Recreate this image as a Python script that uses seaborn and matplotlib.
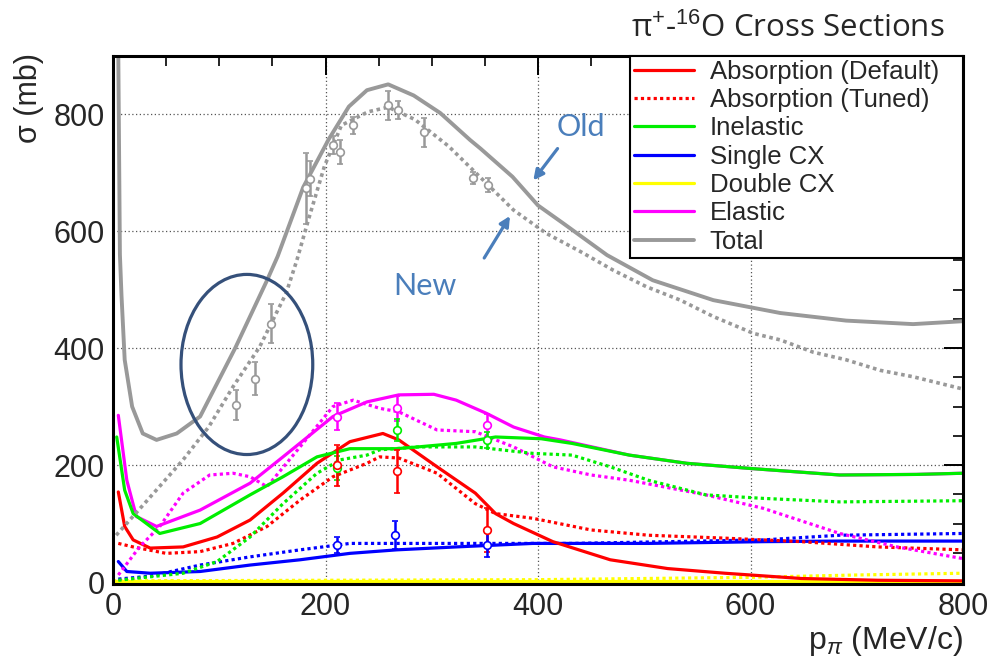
import numpy as np
import pandas as pd
import matplotlib
matplotlib.use("Agg")
import matplotlib.pyplot as plt
import seaborn as sns
from matplotlib.patches import Ellipse
from matplotlib.ticker import MultipleLocator

# ---------------- data ----------------
tot_old_x = [3, 5, 6.5, 8, 11, 18, 28, 41, 60, 82, 115, 145, 155, 179, 203, 222, 239, 259, 283, 308, 336, 346, 376, 400, 424, 465, 508, 565, 628, 690, 753, 800]
tot_old_y = [1000, 900, 560, 490, 380, 300, 254, 243, 254, 283, 400, 516, 557, 675, 757, 813, 841, 851, 832, 802, 756, 741, 693, 644, 613, 559, 516, 482, 460, 447, 441, 446]

tot_new_x = [3, 30, 66, 90, 113, 138, 163, 173, 184, 199, 215, 240, 259, 284, 316, 348, 377, 408, 440, 471, 502, 534, 565, 603, 628, 659, 690, 722, 753, 800]
tot_new_y = [80, 135, 209, 265, 334, 402, 494, 550, 620, 711, 781, 804, 812, 791, 745, 688, 636, 596, 565, 533, 505, 482, 454, 425, 414, 393, 380, 362, 351, 330]

abs_def_x = [5, 11, 19, 35, 66, 98, 129, 160, 192, 223, 254, 269, 305, 341, 360, 377, 414, 468, 522, 576, 648, 720, 800]
abs_def_y = [154, 95, 72, 58, 60, 77, 106, 152, 203, 240, 254, 243, 197, 152, 117, 100, 69, 38, 23, 15, 6, 3, 2]

abs_tun_x = [5, 19, 50, 82, 113, 145, 176, 207, 239, 251, 269, 305, 341, 360, 395, 450, 504, 576, 648, 720, 800]
abs_tun_y = [66, 60, 49, 52, 66, 95, 140, 180, 203, 214, 212, 186, 134, 117, 109, 89, 80, 75, 69, 60, 55]

inel_def_x = [3.5, 11, 19, 44, 82, 129, 160, 192, 223, 267, 287, 323, 360, 403, 432, 486, 540, 601, 684, 756, 800]
inel_def_y = [248, 157, 117, 83, 100, 149, 180, 214, 228, 228, 231, 237, 248, 245, 237, 217, 203, 194, 183, 184, 186]

inel_tun_x = [5, 66, 98, 129, 160, 192, 214, 239, 251, 287, 341, 395, 432, 468, 504, 558, 612, 684, 800]
inel_tun_y = [3, 15, 35, 77, 134, 186, 209, 217, 226, 231, 231, 220, 217, 197, 174, 149, 143, 137, 139]

scx_def_x = [5, 13, 35, 82, 129, 176, 223, 267, 323, 395, 504, 612, 684, 800]
scx_def_y = [35, 18, 15, 18, 29, 38, 49, 55, 60, 66, 66, 69, 70, 70]

scx_tun_x = [5, 35, 82, 129, 176, 223, 267, 323, 432, 612, 684, 800]
scx_tun_y = [5, 10, 29, 43, 55, 66, 66, 66, 66, 72, 80, 83]

dcx_def_x = [0, 200, 400, 600, 800]
dcx_def_y = [1, 1, 1, 1, 1]

dcx_tun_x = [0, 200, 400, 600, 700, 800]
dcx_tun_y = [2, 3, 4, 8, 12, 15]

el_def_x = [5, 13, 22, 41, 82, 129, 160, 207, 239, 269, 302, 323, 352, 377, 406, 421, 486, 540, 601, 684, 756, 800]
el_def_y = [285, 174, 112, 95, 123, 169, 214, 283, 308, 320, 321, 311, 288, 265, 248, 243, 217, 203, 194, 183, 184, 186]

el_tun_x = [5, 25, 44, 66, 91, 113, 129, 145, 176, 207, 226, 251, 269, 305, 341, 377, 414, 450, 486, 558, 612, 684, 738, 800]
el_tun_y = [12, 60, 95, 152, 183, 186, 180, 163, 231, 300, 311, 297, 291, 260, 257, 231, 197, 183, 174, 149, 126, 83, 60, 40]

# measured points
tot_pts_x = [116, 134, 149, 182, 185, 207, 214, 226, 259, 268, 293, 339, 353]
tot_pts_y = [303, 348, 442, 673, 690, 747, 735, 781, 815, 807, 769, 691, 679]
tot_pts_e = [26, 28, 33, 60, 30, 15, 20, 15, 25, 15, 25, 10, 12]

el_pts_x = [211, 267, 352]
el_pts_y = [283, 297, 268]
el_pts_e = [23, 21, 20]

inel_pts_x = [211, 267, 352]
inel_pts_y = [195, 260, 243]
inel_pts_e = [20, 19, 14]

abs_pts_x = [211, 267, 352]
abs_pts_y = [200, 189, 89]
abs_pts_e = [35, 36, 37]

scx_pts_x = [211, 265, 352]
scx_pts_y = [63, 80, 63]
scx_pts_e = [14, 24, 20]

# ---------------- figure ----------------
sns.set_style("white")
plt.rcParams['font.family'] = ['Liberation Sans', 'DejaVu Sans']
plt.rcParams['mathtext.fontset'] = 'custom'
plt.rcParams['mathtext.rm'] = 'Liberation Sans'
plt.rcParams['mathtext.it'] = 'Liberation Sans:italic'

W, H = 994, 661
fig = plt.figure(figsize=(W / 100, H / 100), dpi=100)
ax = fig.add_axes([113 / W, 1 - 584 / H, 850 / W, (584 - 55.7) / H])

RED, GREEN, BLUE, YEL, MAG, GREY = '#ff0000', '#00ee00', '#0000ff', '#ffff00', '#ff00ff', '#999999'
LW = 2.3
dot = (0, (1.0, 1.0))

def line(x, y, color, ls='-', lw=LW, label='_nolegend_'):
    sns.lineplot(x=x, y=y, ax=ax, color=color, linestyle=ls, linewidth=lw,
                 estimator=None, sort=False, label=label)

line(dcx_tun_x, dcx_tun_y, YEL, dot)
line(dcx_def_x, dcx_def_y, YEL, '-', label='Double CX')
line(scx_tun_x, scx_tun_y, BLUE, dot)
line(scx_def_x, scx_def_y, BLUE, '-', label='Single CX')
line(abs_tun_x, abs_tun_y, RED, dot, label='Absorption (Tuned)')
line(abs_def_x, abs_def_y, RED, '-', label='Absorption (Default)')
line(el_tun_x, el_tun_y, MAG, dot)
line(el_def_x, el_def_y, MAG, '-', label='Elastic')
line(inel_tun_x, inel_tun_y, GREEN, dot)
line(inel_def_x, inel_def_y, GREEN, '-', label='Inelastic')
line(tot_new_x, tot_new_y, GREY, dot, lw=2.6)
line(tot_old_x, tot_old_y, GREY, '-', lw=2.8, label='Total')

def pts(x, y, e, color):
    ax.errorbar(x, y, yerr=e, fmt='o', color=color, mfc='white', mec=color,
                ms=5.5, mew=1.2, elinewidth=1.8, capsize=2.5, capthick=1.5, zorder=5)

pts(tot_pts_x, tot_pts_y, tot_pts_e, GREY)
pts(el_pts_x, el_pts_y, el_pts_e, MAG)
pts(inel_pts_x, inel_pts_y, inel_pts_e, GREEN)
pts(abs_pts_x, abs_pts_y, abs_pts_e, RED)
pts(scx_pts_x, scx_pts_y, scx_pts_e, BLUE)

ax.set_xlim(0, 800)
ax.set_ylim(-3.4, 900)
ax.xaxis.set_major_locator(MultipleLocator(200))
ax.xaxis.set_minor_locator(MultipleLocator(50))
ax.yaxis.set_major_locator(MultipleLocator(200))
ax.yaxis.set_minor_locator(MultipleLocator(50))
ax.tick_params(which='both', direction='in', top=True, right=True, labelsize=22,
               color='black')
ax.tick_params(which='major', length=14, width=1.4, pad=6)
ax.tick_params(which='minor', length=7, width=1.2)
ax.grid(which='major', linestyle=(0, (1, 2)), color='#555555', linewidth=0.9)
for s in ax.spines.values():
    s.set_linewidth(2.2)
    s.set_color('black')
ax.set_xlabel('')
ax.set_ylabel('')

# legend
h, l = ax.get_legend_handles_labels()
order = ['Absorption (Default)', 'Absorption (Tuned)', 'Inelastic', 'Single CX',
         'Double CX', 'Elastic', 'Total']
hd = dict(zip(l, h))
x0 = (630 - 113) / 850
leg = ax.legend([hd[k] for k in order], order, loc='upper left', mode='expand',
                bbox_to_anchor=(x0, 0, 1 - x0, 1.0), borderaxespad=0, fontsize=18.5,
                frameon=True, fancybox=False, edgecolor='black', framealpha=1,
                handlelength=2.35, handletextpad=0.6, labelspacing=0.17,
                borderpad=0.15)
leg.get_frame().set_linewidth(1.5)
leg.set_zorder(10)

# axis labels
fig.text(29 / W, 1 - 53 / H, 'σ (mb)', rotation=90, ha='center', va='top', fontsize=22)
fig.text(963 / W, 1 - 641 / H, r'p$_{\pi}$ (MeV/c)', ha='right', va='center', fontsize=23)

# title
fig.text(945 / W, 1 - 28 / H, r'π$^{+}$-$^{16}$O Cross Sections', ha='right', va='center',
         fontsize=22.5, family=['Open Sans', 'DejaVu Sans'])

# ellipse and annotations
ax.add_patch(Ellipse((126, 372), width=124, height=308, fill=False,
                     edgecolor='#35507a', linewidth=2.3, zorder=6))
BLUE_TXT = '#4a7ebb'
ax.text(440, 778, 'Old', color=BLUE_TXT, fontsize=22, ha='center', va='center',
        family=['Lato', 'DejaVu Sans'])
ax.text(294, 507, 'New', color=BLUE_TXT, fontsize=22, ha='center', va='center',
        family=['Lato', 'DejaVu Sans'])
ax.annotate('', xy=(394, 683), xytext=(420, 745),
            arrowprops=dict(arrowstyle='-|>,head_length=0.6,head_width=0.3',
                            color=BLUE_TXT, lw=2.3))
ax.annotate('', xy=(375, 630), xytext=(348, 550),
            arrowprops=dict(arrowstyle='-|>,head_length=0.6,head_width=0.3',
                            color=BLUE_TXT, lw=2.3))

fig.savefig('out.png', dpi=100)
